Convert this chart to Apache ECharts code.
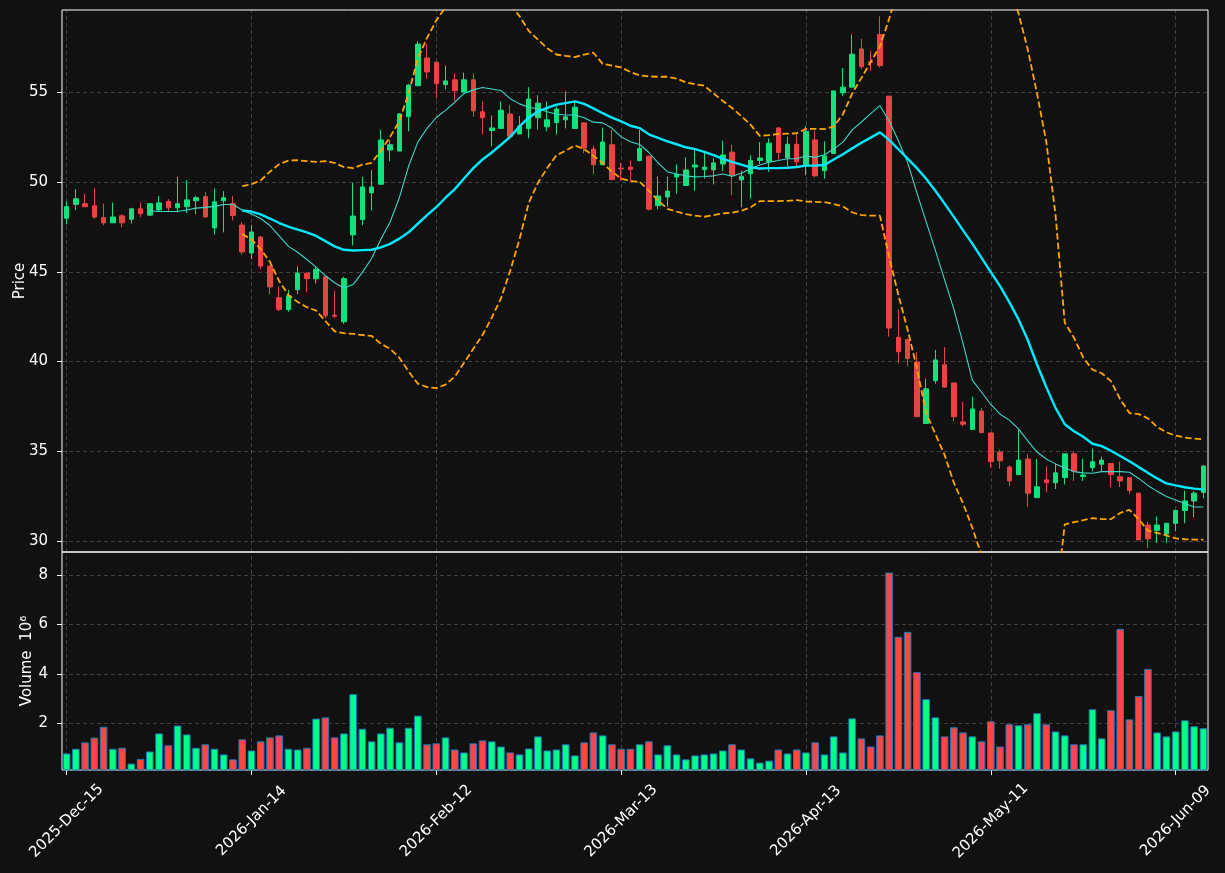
<!DOCTYPE html>
<html>
<head>
<meta charset="utf-8">
<title>Price / Volume</title>
<script src="https://cdn.jsdelivr.net/npm/echarts@6/dist/echarts.min.js"></script>
<style>
  html, body { margin: 0; background: #111111; }
  #chart { width: 1225px; height: 873px; }
</style>
</head>
<body>
<div id="chart"></div>
<script>
// trading days shown on the x axis
const tradingDays = [
  ["2025", "Dec", [15, 16, 17, 18, 19, 22, 23, 24, 26, 29, 30, 31]],
  ["2026", "Jan", [2, 5, 6, 7, 8, 9, 12, 13, 14, 15, 16, 20, 21, 22, 23, 26, 27, 28, 29, 30]],
  ["2026", "Feb", [2, 3, 4, 5, 6, 9, 10, 11, 12, 13, 17, 18, 19, 20, 23, 24, 25, 26, 27]],
  ["2026", "Mar", [2, 3, 4, 5, 6, 9, 10, 11, 12, 13, 16, 17, 18, 19, 20, 23, 24, 25, 26, 27, 30, 31]],
  ["2026", "Apr", [1, 2, 6, 7, 8, 9, 10, 13, 14, 15, 16, 17, 20, 21, 22, 23, 24, 27, 28, 29, 30]],
  ["2026", "May", [1, 4, 5, 6, 7, 8, 11, 12, 13, 14, 15, 18, 19, 20, 21, 22, 26, 27, 28, 29]],
  ["2026", "Jun", [1, 2, 3, 4, 5, 8, 9, 10, 11, 12]]
]
const dates = tradingDays.flatMap(([y, m, days]) =>
  days.map(d => `${y}-${m}-${String(d).padStart(2, "0")}`)
)

// y tick labels
const priceTicks = [30, 35, 40, 45, 50, 55]
const volumeTicks = [2, 4, 6, 8]

const open = [
  47.99, 48.76, 48.80, 48.68, 48.02, 47.73, 48.12, 47.93, 48.51, 48.16,
  48.45, 48.92, 48.57, 48.63, 48.96, 49.19, 47.45, 48.96, 48.80, 47.61,
  46.05, 46.94, 45.32, 43.56, 42.90, 44.00, 44.93, 44.62, 44.72, 42.59,
  42.22, 47.06, 47.91, 49.40, 49.88, 51.79, 51.73, 53.64, 55.37, 56.92,
  56.68, 55.43, 55.70, 55.02, 55.70, 53.92, 52.87, 52.99, 53.80, 52.68,
  52.99, 53.59, 53.08, 53.32, 53.47, 52.99, 53.30, 51.84, 50.97, 52.08,
  50.78, 50.84, 51.20, 51.44, 48.69, 49.17, 50.29, 49.81, 50.84, 50.70,
  50.68, 51.01, 51.67, 50.12, 50.47, 51.20, 51.13, 53.02, 51.36, 52.11,
  50.97, 52.35, 50.64, 51.59, 54.98, 55.29, 57.42, 56.70, 58.23, 54.79,
  41.35, 41.23, 39.97, 36.55, 38.93, 39.82, 38.81, 36.64, 36.22, 37.24,
  36.02, 34.96, 34.12, 33.70, 34.57, 32.42, 33.41, 33.25, 33.54, 34.86,
  33.60, 34.09, 34.28, 34.32, 33.58, 33.54, 32.67, 30.89, 30.60, 30.39,
  30.99, 31.70, 32.23, 32.71
]
const close = [
  48.63, 49.07, 48.63, 48.05, 47.73, 48.06, 47.73, 48.51, 48.24, 48.80,
  48.84, 48.57, 48.80, 49.01, 49.13, 48.06, 48.90, 49.13, 48.14, 46.11,
  47.22, 45.32, 44.16, 42.90, 43.67, 44.93, 44.62, 45.14, 42.55, 42.53,
  44.62, 48.11, 49.73, 49.73, 52.35, 52.08, 53.80, 55.41, 57.69, 56.14,
  55.48, 55.64, 55.10, 55.70, 53.97, 53.59, 53.02, 54.01, 52.54, 53.12,
  54.63, 54.40, 53.47, 54.07, 53.64, 54.17, 51.90, 50.97, 52.23, 50.14,
  50.74, 50.70, 51.88, 48.49, 49.23, 49.50, 50.43, 50.68, 50.95, 50.84,
  51.07, 51.51, 50.35, 50.33, 51.20, 51.34, 52.17, 51.65, 52.11, 51.13,
  52.83, 50.35, 51.46, 55.08, 55.29, 57.13, 56.43, 56.66, 56.49, 41.87,
  40.55, 40.17, 36.93, 38.48, 40.09, 38.58, 36.93, 36.51, 37.36, 36.04,
  34.42, 34.47, 33.35, 34.51, 32.67, 33.02, 33.25, 33.80, 34.86, 33.89,
  33.68, 34.42, 34.51, 33.70, 33.35, 32.81, 30.06, 30.12, 30.89, 30.99,
  31.70, 32.23, 32.67, 34.18
]
const high = [
  48.92, 49.61, 49.34, 49.67, 48.80, 48.86, 48.22, 48.57, 48.86, 48.84,
  49.23, 49.05, 50.29, 50.10, 49.23, 49.46, 49.65, 49.50, 49.23, 47.78,
  47.62, 47.00, 45.36, 44.19, 44.00, 45.30, 44.93, 45.26, 44.76, 43.94,
  44.72, 49.97, 50.29, 50.66, 52.91, 52.35, 53.84, 55.45, 57.85, 57.69,
  56.72, 56.49, 56.05, 56.10, 56.05, 54.50, 53.72, 54.50, 54.30, 53.68,
  55.29, 54.84, 54.50, 54.21, 55.06, 54.46, 53.34, 52.04, 53.04, 52.93,
  51.07, 51.20, 52.91, 51.48, 50.31, 50.31, 50.99, 51.38, 51.92, 51.63,
  51.32, 52.31, 52.08, 50.64, 51.50, 52.23, 52.43, 53.06, 52.54, 52.64,
  53.14, 52.87, 52.27, 55.08, 56.36, 58.23, 57.98, 57.32, 59.24, 54.79,
  42.90, 41.27, 40.52, 39.06, 40.65, 40.81, 38.81, 37.75, 38.04, 37.42,
  36.06, 35.09, 34.22, 36.22, 34.84, 34.57, 34.16, 34.32, 34.86, 35.00,
  34.57, 35.15, 34.71, 34.32, 34.42, 33.54, 32.67, 31.08, 31.37, 30.99,
  31.74, 32.81, 32.77, 34.22
]
const low = [
  47.64, 48.43, 48.63, 47.97, 47.59, 47.73, 47.48, 47.69, 48.05, 48.10,
  48.39, 48.39, 48.32, 48.28, 48.20, 48.02, 47.08, 47.20, 47.86, 45.96,
  45.70, 45.16, 43.75, 42.82, 42.78, 43.75, 43.87, 44.35, 42.41, 42.41,
  42.10, 46.48, 47.60, 48.42, 49.88, 51.17, 51.73, 52.83, 55.37, 55.76,
  54.65, 55.17, 54.52, 55.02, 53.64, 52.66, 52.00, 52.99, 52.54, 52.68,
  52.44, 52.93, 52.83, 52.66, 52.99, 52.99, 51.61, 50.43, 50.97, 50.14,
  50.06, 50.06, 51.15, 48.42, 48.49, 48.63, 49.36, 49.81, 49.52, 50.19,
  49.87, 50.62, 49.27, 48.59, 49.09, 51.01, 50.57, 51.26, 50.88, 50.88,
  50.37, 50.26, 50.19, 51.59, 54.79, 55.29, 56.30, 56.20, 56.39, 41.39,
  39.91, 39.74, 36.93, 36.55, 38.77, 38.54, 36.68, 36.39, 36.22, 36.04,
  34.09, 34.03, 33.06, 33.70, 31.90, 32.42, 32.71, 32.90, 33.16, 33.35,
  33.35, 33.89, 33.89, 33.00, 33.00, 32.61, 30.06, 29.61, 29.90, 29.90,
  30.54, 30.99, 31.32, 32.38
]
// volume in millions
const volume = [
  0.78, 0.97, 1.23, 1.42, 1.86, 0.97, 1.01, 0.37, 0.56, 0.86,
  1.59, 1.11, 1.91, 1.55, 1.01, 1.15, 0.97, 0.74, 0.54, 1.35,
  0.90, 1.27, 1.43, 1.51, 0.97, 0.94, 1.01, 2.19, 2.24, 1.43,
  1.59, 3.18, 1.78, 1.27, 1.59, 1.82, 1.23, 1.82, 2.31, 1.15,
  1.19, 1.43, 0.94, 0.82, 1.19, 1.31, 1.27, 1.06, 0.82, 0.74,
  0.98, 1.47, 0.90, 0.94, 1.15, 0.70, 1.23, 1.63, 1.51, 1.15,
  0.97, 0.97, 1.15, 1.27, 0.74, 1.11, 0.74, 0.54, 0.70, 0.74,
  0.78, 0.90, 1.15, 0.94, 0.58, 0.41, 0.49, 0.94, 0.78, 0.94,
  0.82, 1.23, 0.74, 1.47, 0.82, 2.20, 1.39, 1.06, 1.51, 8.10,
  5.50, 5.70, 4.07, 2.98, 2.24, 1.47, 1.84, 1.63, 1.47, 1.27,
  2.08, 1.06, 1.96, 1.92, 1.96, 2.41, 1.96, 1.67, 1.51, 1.15,
  1.15, 2.57, 1.39, 2.53, 5.82, 2.16, 3.10, 4.20, 1.63, 1.47,
  1.67, 2.12, 1.88, 1.80
]

const ma10 = [
  ...Array(9).fill(null),
  48.40, 48.36, 48.36, 48.36, 48.45, 48.55, 48.59, 48.65, 48.75, 48.75,
  48.45, 48.22, 47.97, 47.58, 47.00, 46.42, 46.09, 45.69, 45.26, 44.78,
  44.39, 44.10, 44.29, 44.97, 45.74, 46.81, 47.78, 49.13, 50.88, 52.23,
  53.00, 53.60, 54.00, 54.45, 54.94, 55.14, 55.27, 55.19, 55.10, 54.65,
  54.36, 54.17, 54.07, 53.92, 53.78, 53.74, 53.74, 53.59, 53.34, 53.30,
  53.01, 52.52, 52.25, 52.10, 51.65, 51.07, 50.58, 50.45, 50.35, 50.29,
  50.31, 50.35, 50.45, 50.33, 50.49, 50.74, 50.95, 51.11, 51.20, 51.30,
  51.30, 51.46, 51.38, 51.52, 51.84, 52.23, 52.91, 53.35, 53.82, 54.26,
  53.40, 52.30, 51.10, 49.40, 47.80, 46.20, 44.55, 42.92, 41.00, 38.97,
  38.29, 37.61, 37.07, 36.74, 36.25, 35.58, 34.96, 34.57, 34.30, 34.07,
  33.87, 33.80, 33.78, 33.87, 33.87, 33.87, 33.83, 33.49, 33.10, 32.77,
  32.48, 32.29, 32.09, 31.90, 31.90
]
const ma20 = [
  ...Array(19).fill(null),
  48.42, 48.36, 48.20, 47.97, 47.72, 47.52, 47.35, 47.20, 47.00, 46.71,
  46.42, 46.23, 46.19, 46.21, 46.23, 46.36, 46.56, 46.85, 47.20, 47.68,
  48.16, 48.61, 49.13, 49.61, 50.20, 50.78, 51.26, 51.65, 52.08, 52.52,
  53.10, 53.59, 53.94, 54.13, 54.32, 54.40, 54.50, 54.36, 54.11, 53.84,
  53.59, 53.39, 53.14, 53.01, 52.66, 52.46, 52.27, 52.11, 51.94, 51.84,
  51.69, 51.50, 51.30, 51.13, 50.97, 50.82, 50.76, 50.78, 50.78, 50.80,
  50.84, 50.92, 50.92, 50.95, 51.26, 51.55, 51.88, 52.19, 52.48, 52.77,
  52.35, 51.83, 51.31, 50.78, 50.19, 49.52, 48.80, 48.06, 47.31, 46.57,
  45.78, 44.98, 44.20, 43.31, 42.35, 41.20, 39.84, 38.58, 37.42, 36.51,
  36.12, 35.81, 35.42, 35.29, 35.03, 34.74, 34.45, 34.12, 33.80, 33.49,
  33.21, 33.10, 33.00, 32.92, 32.87
]
const bbUpper = [
  ...Array(19).fill(null),
  49.77, 49.88, 50.10, 50.58, 51.00, 51.20, 51.22, 51.17, 51.13, 51.17,
  51.07, 50.84, 50.78, 50.97, 51.07, 51.75, 52.52, 53.39, 54.94, 56.88,
  58.04, 59.01, 59.75, 60.30, 60.60, 60.80, 60.80, 60.60, 60.30, 59.90,
  59.25, 58.43, 57.94, 57.46, 57.11, 57.03, 56.97, 57.11, 57.21, 56.59,
  56.49, 56.39, 56.14, 55.95, 55.89, 55.87, 55.87, 55.77, 55.56, 55.46,
  55.37, 54.94, 54.52, 54.13, 53.68, 53.20, 52.58, 52.62, 52.68, 52.70,
  52.72, 52.97, 52.97, 52.95, 53.10, 53.78, 54.94, 55.81, 56.69, 57.56,
  59.10, 60.80, 62.00, 63.20, 63.80, 64.20, 64.40, 64.40, 64.20, 63.90,
  63.40, 62.70, 61.90, 60.90, 59.39, 57.39, 54.94, 52.26, 48.19, 42.17,
  41.33, 40.22, 39.55, 39.35, 38.91, 37.90, 37.13, 37.07, 36.84, 36.35,
  36.06, 35.87, 35.77, 35.71, 35.67
]
const bbLower = [
  ...Array(19).fill(null),
  47.10, 46.81, 46.27, 45.55, 44.48, 43.71, 43.32, 43.03, 42.84, 42.26,
  41.68, 41.58, 41.54, 41.48, 41.43, 41.00, 40.71, 40.22, 39.45, 38.77,
  38.58, 38.52, 38.72, 39.16, 39.93, 40.71, 41.48, 42.45, 43.52, 45.07,
  46.81, 48.84, 49.97, 50.78, 51.50, 51.75, 52.04, 51.84, 51.46, 51.07,
  50.58, 50.20, 50.06, 50.02, 49.52, 48.98, 48.51, 48.36, 48.22, 48.13,
  48.07, 48.16, 48.26, 48.30, 48.40, 48.59, 48.94, 48.94, 48.94, 48.96,
  49.00, 48.92, 48.90, 48.88, 48.78, 48.65, 48.32, 48.16, 48.13, 48.13,
  45.84, 43.71, 41.77, 39.64, 37.13, 35.96, 34.80, 33.25, 32.09, 30.74,
  29.20, 28.30, 27.50, 26.80, 26.30, 25.70, 25.50, 25.60, 26.50, 30.93,
  31.05, 31.16, 31.28, 31.22, 31.22, 31.57, 31.74, 31.22, 30.58, 30.45,
  30.31, 30.15, 30.10, 30.08, 30.08
]

const UP = "#14e07e"
const DOWN = "#e84444"
const VOL_UP = "#00ff88"
const VOL_DOWN = "#ff4545"
const FONT = 15
const gridLine = { color: "rgba(255,255,255,0.2)", type: [4, 3], width: 1 }
const bandLine = { color: "#ffa500", width: 1.8, type: [6.5, 3] }
const labelEvery = idx => idx % 20 === 0
const vLines = dates.filter((d, i) => labelEvery(i)).map(d => ({ xAxis: d }))

const vLineMark = {
  silent: true,
  symbol: ["none", "none"],
  label: { show: false },
  lineStyle: gridLine,
  z: 1,
  data: vLines
}

const valueAxis = (gridIndex, min, max, name, gap, ticks) => ({
  type: "value",
  gridIndex,
  min,
  max,
  name,
  nameLocation: "middle",
  nameGap: gap,
  nameMoveOverlap: false,
  nameTextStyle: { color: "#ffffff", fontSize: FONT },
  axisLine: { show: false },
  axisTick: { show: true, length: 5, lineStyle: { color: "#ffffff" }, customValues: ticks },
  axisLabel: {
    color: "#ffffff",
    fontSize: FONT,
    margin: 14,
    customValues: ticks,
    formatter: v => (ticks.some(t => Math.abs(t - v) < 1e-6) ? String(v) : "")
  },
  splitLine: { show: true, lineStyle: gridLine }
})

const chart = echarts.init(document.getElementById("chart"))

chart.setOption({
  backgroundColor: "#111111",
  animation: false,
  textStyle: { fontFamily: "DejaVu Sans" },
  grid: [
    {
      left: 62, top: 10, width: 1146, height: 542,
      outerBoundsMode: "none",
      show: true, borderColor: "#ffffff", borderWidth: 1, backgroundColor: "transparent"
    },
    {
      left: 62, top: 552, width: 1146, height: 218,
      outerBoundsMode: "none",
      show: true, borderColor: "#ffffff", borderWidth: 1, backgroundColor: "transparent"
    }
  ],
  xAxis: [
    {
      type: "category",
      gridIndex: 0,
      data: dates,
      boundaryGap: true,
      axisLine: { show: false },
      axisTick: { show: false },
      axisLabel: { show: false },
      splitLine: { show: false }
    },
    {
      type: "category",
      gridIndex: 1,
      data: dates,
      boundaryGap: true,
      axisLine: { show: false },
      axisTick: { show: true, alignWithLabel: true, interval: labelEvery, length: 5, lineStyle: { color: "#ffffff" } },
      axisLabel: {
        interval: labelEvery,
        rotate: 45,
        color: "#ffffff",
        fontSize: FONT,
        align: "center",
        verticalAlign: "middle",
        margin: 51
      },
      splitLine: { show: false }
    }
  ],
  yAxis: [
    valueAxis(0, 29.39, 59.59, "Price", 34, priceTicks),
    valueAxis(1, 0.11, 8.93, "Volume  10⁶", 27, volumeTicks)
  ],
  series: [
    {
      type: "candlestick",
      xAxisIndex: 0,
      yAxisIndex: 0,
      barWidth: 5,
      data: dates.map((d, i) => [open[i], close[i], low[i], high[i]]),
      itemStyle: { color: UP, color0: DOWN, borderColor: UP, borderColor0: DOWN, borderWidth: 1 },
      markLine: vLineMark,
      z: 2
    },
    {
      type: "line",
      xAxisIndex: 0,
      yAxisIndex: 0,
      data: ma10,
      symbol: "none",
      lineStyle: { color: "#3fd6c6", width: 1.1 },
      z: 3
    },
    {
      type: "line",
      xAxisIndex: 0,
      yAxisIndex: 0,
      data: ma20,
      symbol: "none",
      lineStyle: { color: "#00eaff", width: 2.4 },
      z: 3
    },
    {
      type: "line",
      xAxisIndex: 0,
      yAxisIndex: 0,
      data: bbUpper,
      symbol: "none",
      lineStyle: bandLine,
      z: 3
    },
    {
      type: "line",
      xAxisIndex: 0,
      yAxisIndex: 0,
      data: bbLower,
      symbol: "none",
      lineStyle: bandLine,
      z: 3
    },
    {
      type: "bar",
      xAxisIndex: 1,
      yAxisIndex: 1,
      barWidth: 7.6,
      data: volume.map((v, i) => ({
        value: v,
        itemStyle: { color: close[i] >= open[i] ? VOL_UP : VOL_DOWN }
      })),
      itemStyle: { borderColor: "#1f77b4", borderWidth: 1 },
      markLine: vLineMark,
      z: 2
    }
  ]
})

window.addEventListener("resize", () => chart.resize())
</script>
</body>
</html>
